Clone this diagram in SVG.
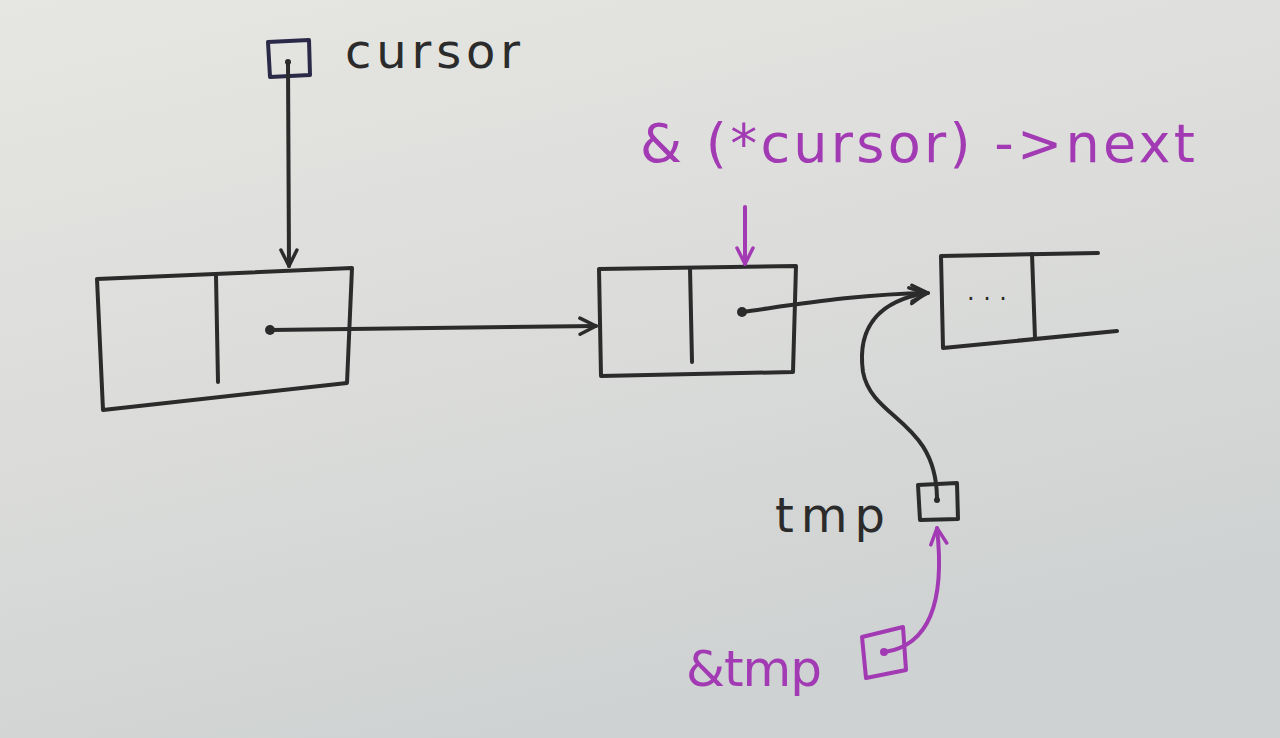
<svg xmlns="http://www.w3.org/2000/svg" width="1280" height="738" viewBox="0 0 1280 738">
<defs>
<linearGradient id="bg" x1="0" y1="0" x2="0.4" y2="1">
<stop offset="0" stop-color="#e6e6e2"/>
<stop offset="0.5" stop-color="#dcdddb"/>
<stop offset="1" stop-color="#cfd2d2"/>
</linearGradient>
<marker id="ah" viewBox="0 0 20 20" refX="18" refY="10" markerWidth="20" markerHeight="20" markerUnits="userSpaceOnUse" orient="auto">
<path d="M2,2 L18,10 L2,18" fill="none" stroke="#2b2b2b" stroke-width="3.5" stroke-linecap="round" stroke-linejoin="round"/>
</marker>
<marker id="ahp" viewBox="0 0 20 20" refX="18" refY="10" markerWidth="20" markerHeight="20" markerUnits="userSpaceOnUse" orient="auto">
<path d="M2,2 L18,10 L2,18" fill="none" stroke="#a23ab4" stroke-width="3.5" stroke-linecap="round" stroke-linejoin="round"/>
</marker>
</defs>
<style>
.ink{fill:none;stroke:#2b2b2b;stroke-width:4;stroke-linecap:round;stroke-linejoin:round}
.pink{fill:none;stroke:#a23ab4;stroke-width:4;stroke-linecap:round;stroke-linejoin:round}
.dot{fill:#2b2b2b}
.pdot{fill:#a23ab4}
.t{font-family:"DejaVu Sans",sans-serif;fill:#2b2b2b}
.pt{font-family:"DejaVu Sans",sans-serif;fill:#a23ab4}
</style>
<rect width="1280" height="738" fill="url(#bg)"/>
<g id="cursor">
<path class="ink" d="M268,42 L309,40 L310,75 L270,77 Z" style="stroke:#2a2a48"/>
<circle class="dot" cx="288" cy="62" r="3"/>
<text class="t" x="345" y="68" font-size="48" textLength="175" lengthAdjust="spacing">cursor</text>
</g>
<g id="node1">
<path class="ink" d="M97,279 L352,268 L347,383 L103,410 Z"/>
<path class="ink" d="M216,276 L218,382"/>
<circle class="dot" cx="270" cy="330" r="5"/>
</g>
<g id="node2">
<path class="ink" d="M599,269 L796,266 L793,372 L601,376 Z"/>
<path class="ink" d="M690,268 L692,362"/>
<circle class="dot" cx="742" cy="312" r="5"/>
</g>
<g id="node3">
<path class="ink" d="M1098,253 L941,256 L943,348 L1117,331"/>
<path class="ink" d="M1032,254 L1035,338"/>
<text class="t" x="967" y="300" font-size="24" fill="#555" textLength="40" lengthAdjust="spacing">...</text>
</g>
<g id="label-next">
<text class="pt" x="640" y="162" font-size="54" textLength="555" lengthAdjust="spacing">&amp; (*cursor) -&gt;next</text>
</g>
<g id="tmp">
<path class="ink" d="M918,485 L957,483 L958,519 L920,520 Z"/>
<circle class="dot" cx="937" cy="500" r="3"/>
<text class="t" x="775" y="532" font-size="48" textLength="110" lengthAdjust="spacing">tmp</text>
</g>
<g id="amptmp">
<path class="pink" d="M862,637 L903,627 L906,670 L866,678 Z"/>
<circle class="pdot" cx="884" cy="652" r="4"/>
<text class="pt" x="686" y="686" font-size="50" textLength="136" lengthAdjust="spacing">&amp;tmp</text>
</g>
<g id="connectors">
<path class="ink" d="M288,62 L289,266" marker-end="url(#ah)"/>
<path class="ink" d="M270,330 L596,326" marker-end="url(#ah)"/>
<path class="ink" d="M742,312 C800,304 860,294 928,293" marker-end="url(#ah)"/>
<path class="ink" d="M937,498 C936,420 872,420 863,372 C856,322 885,300 926,293" marker-end="url(#ah)"/>
<path class="pink" d="M745,207 L745,264" marker-end="url(#ahp)"/>
<path class="pink" d="M885,652 C930,645 945,600 937,528" marker-end="url(#ahp)"/>
</g>
</svg>
